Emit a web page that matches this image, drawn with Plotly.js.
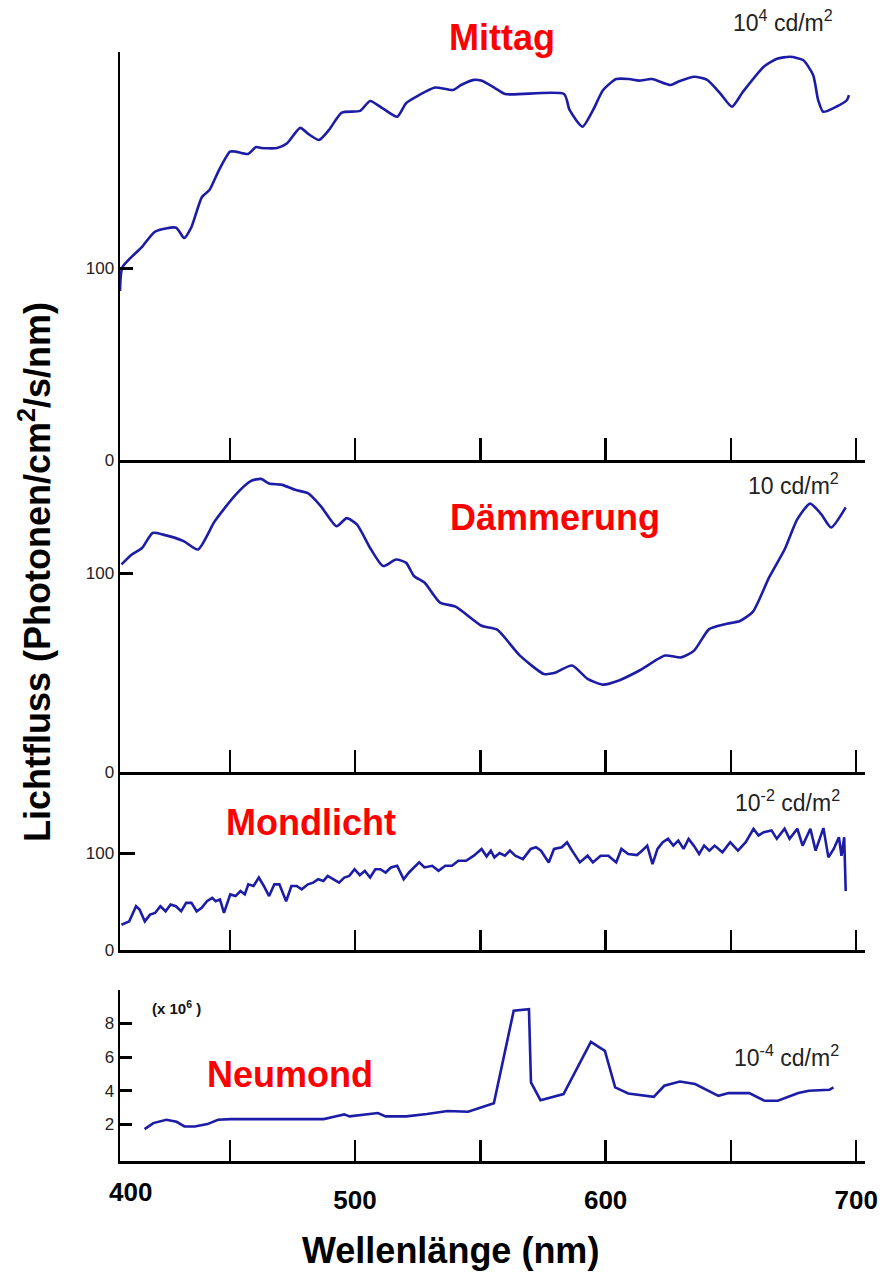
<!DOCTYPE html>
<html><head><meta charset="utf-8">
<script src="https://cdn.plot.ly/plotly-3.0.1.min.js"></script>
<style>html,body{margin:0;padding:0;background:#fff}#chart{width:890px;height:1276px}</style>
</head><body><div id="chart"></div>
<script>
// ---- data (wavelength nm, value) ----
const mittagNm  = [406.2,407.2,415.0,420.2,428.6,431.8,434.6,438.9,441.9,445.7,450.1,452.3,457.3,460.5,462.5,468.9,472.9,478.1,481.2,485.6,489.6,494.7,502.0,506.0,511.2,516.8,520.4,525.5,531.9,539.1,542.3,547.5,550.3,555.5,559.9,583.4,585.6,590.8,595.0,599.0,604.2,609.3,613.3,618.5,625.9,628.9,635.3,640.5,645.7,650.4,654.8,663.2,668.4,673.6,678.8,682.8,684.8,686.8,692.0,696.3,697.1];
const mittagVal = [88,100.5,111,119,121,115.6,121,137,140.6,151,160.6,160.6,159.4,163,162.5,162.5,165,173,170,166.7,171.9,180.9,181.8,187,183,178.8,185.9,190,194,192.7,195.3,198,197.6,194,190.6,190.6,182.3,173.6,182.3,192.7,198.4,198.4,197.6,198.4,195.3,197,199.6,198,191,184,191.8,205,209,210,208.3,200.5,187.5,181.4,184,187.5,190];

const daemNm  = [406.8,410.9,415.0,419.2,423.4,431.6,437.3,444.0,452.3,458.5,462.5,465.7,470.9,476.1,481.2,486.4,492.6,496.7,500.8,506.0,511.2,516.4,520.4,523.5,527.7,533.9,540.1,550.5,556.7,565.8,575.3,579.4,586.6,592.8,599.0,605.3,613.5,623.7,630.1,635.3,641.3,647.6,653.6,658.8,665.2,671.4,676.5,681.6,686.0,690.0,695.8];
const daemVal = [104.3,109.3,112.6,120.1,119.3,116,111.8,126,139.3,146.3,147.3,145,144.3,141.8,140.1,133.5,123.5,127.6,124.3,112.6,103.5,106.8,105.1,98.5,95.2,85.1,83.1,73.5,71.5,58.5,49.3,49.7,53.5,46.8,43.9,46,51,58.5,57.6,61,71.8,74.3,75.9,80.6,97.7,111.8,127.1,134.9,129.6,122.9,133];

const mondNm  = [406.8,409.9,412.6,414.0,416.1,418.2,420.2,422.3,424.4,426.4,428.5,430.6,432.6,434.7,436.8,438.8,440.9,443.0,444.4,446.1,447.7,450.2,452.3,454.3,456.0,457.4,459.5,461.6,463.6,465.7,467.8,469.8,472.5,474.6,476.7,478.7,481.2,483.3,485.3,487.4,489.1,491.5,493.6,495.7,497.7,499.8,501.9,503.9,506.0,508.1,510.1,512.2,514.3,516.8,519.4,521.5,524.2,525.6,527.7,530.8,533.3,536.0,538.7,541.2,544.3,547.4,550.5,552.5,554.2,555.6,557.7,559.8,561.8,563.9,567.0,570.1,572.2,574.2,577.3,579.4,582.5,584.6,586.6,589.7,592.8,594.9,598.0,601.1,604.2,606.3,609.0,612.5,614.5,616.6,618.7,620.7,622.8,624.9,627.0,629.0,631.1,633.1,635.2,637.3,639.3,641.4,643.5,646.6,649.7,652.8,655.9,659.0,661.0,663.1,666.2,668.3,671.4,673.4,676.5,678.6,681.7,683.8,686.9,688.9,691.0,693.1,694.1,695.2,695.8];
const mondVal = [26.0,29.5,45.1,41.7,29.5,36.5,38.2,45.1,39.9,46.9,45.1,39.9,48.6,48.6,39.9,43.4,50.3,53.8,50.3,52.1,38.2,57.3,55.6,60.8,57.3,67.7,66.0,74.7,66.0,55.6,67.7,67.7,50.3,66.0,66.0,62.5,67.7,69.4,72.9,71.2,76.4,72.9,69.4,74.7,76.4,83.3,77.1,81.6,74.7,83.3,83.3,79.9,85.1,86.8,72.9,79.9,86.8,90.3,85.1,86.8,81.6,86.8,86.8,92.0,92.0,97.2,104.2,96.5,102.4,95.5,100.0,97.2,102.4,97.2,93.7,104.2,105.9,102.4,90.3,104.2,105.9,111.1,102.4,90.3,97.2,90.3,97.2,97.2,90.3,104.2,99.0,97.9,102.4,107.6,88.5,104.2,111.1,114.6,107.6,112.8,104.2,114.6,107.6,99.0,107.6,102.4,107.6,100.7,111.1,102.4,111.1,125.0,118.1,121.5,123.3,114.6,125.0,114.6,125.0,107.6,125.0,102.4,125.7,95.5,104.2,116.3,97.2,116.3,60.8];

const neuNm  = [416.0,419.5,424.7,428.8,431.9,436.0,441.1,445.3,450.4,471.0,487.5,491.6,495.7,497.8,504.0,509.1,512.2,520.4,528.7,536.9,545.1,551.3,555.4,563.3,569.4,570.2,574.0,583.2,594.1,599.7,603.8,609.0,619.2,623.4,629.6,635.7,645.0,649.1,657.3,663.5,668.7,676.9,681.1,689.3,690.9];
const neuVal = [1.70,2.06,2.26,2.14,1.86,1.86,2.0,2.26,2.30,2.30,2.30,2.44,2.58,2.46,2.58,2.66,2.46,2.46,2.60,2.78,2.74,3.05,3.25,8.76,8.86,4.49,3.43,3.79,6.91,6.37,4.19,3.83,3.63,4.29,4.54,4.39,3.69,3.85,3.85,3.39,3.39,3.85,3.99,4.05,4.19];

const xTickVals = [450,500,550,600,650,700];
const xTickText = ['','500','','600','','700'];
const yTickValsTop = [0,100];
const yTickValsNeu = [2,4,6,8];
const panelNames = ['Mittag','Dämmerung','Mondlicht','Neumond'];
const unitLabels = ['10<sup>4</sup> cd/m<sup>2</sup>','10 cd/m<sup>2</sup>','10<sup>-2</sup> cd/m<sup>2</sup>','10<sup>-4</sup> cd/m<sup>2</sup>'];

// ---- layout helpers ----
const W = 890, H = 1276;
const px = v => v / W;
const py = v => 1 - v / H;
const LINE = '#1c1ca6';
const FONT = 'Liberation Sans, Arial, Helvetica, sans-serif';

const xr = [406.2, 703.5];
const xdom = [px(120), px(865)];
function xax(extra) {
  return Object.assign({
    domain: xdom, range: xr, showline: true, linewidth: 3, linecolor: '#000',
    ticks: 'inside', ticklen: 22, tickwidth: 2.5, tickcolor: '#000',
    tickmode: 'array', tickvals: xTickVals, showticklabels: false,
    showgrid: false, zeroline: false, fixedrange: true
  }, extra || {});
}
function yax(dom, range, tv, extra) {
  return Object.assign({
    domain: dom, range: range, showline: true, linewidth: 2.5, linecolor: '#000',
    ticks: 'inside', ticklen: 13, tickwidth: 3, tickcolor: '#000',
    tickmode: 'array', tickvals: tv, ticklabelstandoff: 0,
    tickfont: {family: FONT, size: 17, color: '#222'},
    showgrid: false, zeroline: false, fixedrange: true
  }, extra || {});
}

const tr = (x, y, xa, ya, shape) => ({
  x: x, y: y, xaxis: xa, yaxis: ya, type: 'scatter', mode: 'lines',
  line: {color: LINE, width: 2.6, shape: shape || 'linear', smoothing: 0.6},
  hoverinfo: 'skip', showlegend: false
});

const data = [
  tr(mittagNm, mittagVal, 'x', 'y', 'spline'),
  tr(daemNm, daemVal, 'x2', 'y2', 'spline'),
  tr(mondNm, mondVal, 'x3', 'y3'),
  tr(neuNm, neuVal, 'x4', 'y4')
];

const redFont = {family: FONT, size: 36, color: '#ff0000', weight: 'bold'};
const unitFont = {family: FONT, size: 23, color: '#222'};
const ann = (text, x, y, font, extra) => Object.assign({
  text: text, xref: 'paper', yref: 'paper', x: px(x), y: py(y),
  xanchor: 'center', yanchor: 'middle', showarrow: false, font: font
}, extra || {});

const layout = {
  width: W, height: H, margin: {l: 0, r: 0, t: 0, b: 0},
  paper_bgcolor: '#fff', plot_bgcolor: 'rgba(0,0,0,0)', showlegend: false,
  xaxis: xax({anchor: 'y'}),
  xaxis2: xax({anchor: 'y2'}),
  xaxis3: xax({anchor: 'y3', ticklen: 20}),
  xaxis4: xax({anchor: 'y4', ticklen: 21, showticklabels: true, ticktext: xTickText,
               ticklabelstandoff: 14,
               tickfont: {family: FONT, size: 26, color: '#000', weight: 'bold'}}),
  yaxis: yax([py(460), py(52)], [0, 212.5], yTickValsTop, {anchor: 'x'}),
  yaxis2: yax([py(772), py(460)], [0, 156.8], yTickValsTop, {anchor: 'x2'}),
  yaxis3: yax([py(950), py(772)], [0, 183.5], yTickValsTop, {anchor: 'x3', ticklen: 15}),
  yaxis4: yax([py(1161), py(990)], [-0.2, 10.0], yTickValsNeu, {anchor: 'x4', ticklen: 12,
               tickfont: {family: FONT, size: 17, color: '#222'}}),
  annotations: [
    ann(panelNames[0], 502, 38, redFont),
    ann(panelNames[1], 555, 518, redFont),
    ann(panelNames[2], 311, 823, redFont),
    ann(panelNames[3], 290, 1074, redFont),
    ann(unitLabels[0], 783, 21, unitFont),
    ann(unitLabels[1], 793, 484, unitFont),
    ann(unitLabels[2], 787, 801, unitFont),
    ann(unitLabels[3], 786, 1056, unitFont),
    ann('(x 10<sup>6</sup> )', 176, 1007, {family: FONT, size: 15, color: '#111', weight: 'bold'}),
    ann('400', 130, 1192, {family: FONT, size: 26, color: '#000', weight: 'bold'}),
    ann('Wellenlänge (nm)', 450, 1250, {family: FONT, size: 36, color: '#000', weight: 'bold'}),
    ann('Lichtfluss (Photonen/cm<sup>2</sup>/s/nm)', 35, 572, {family: FONT, size: 36, color: '#000', weight: 'bold'}, {textangle: -90})
  ]
};

Plotly.newPlot('chart', data, layout, {staticPlot: true, displayModeBar: false});
</script></body></html>
